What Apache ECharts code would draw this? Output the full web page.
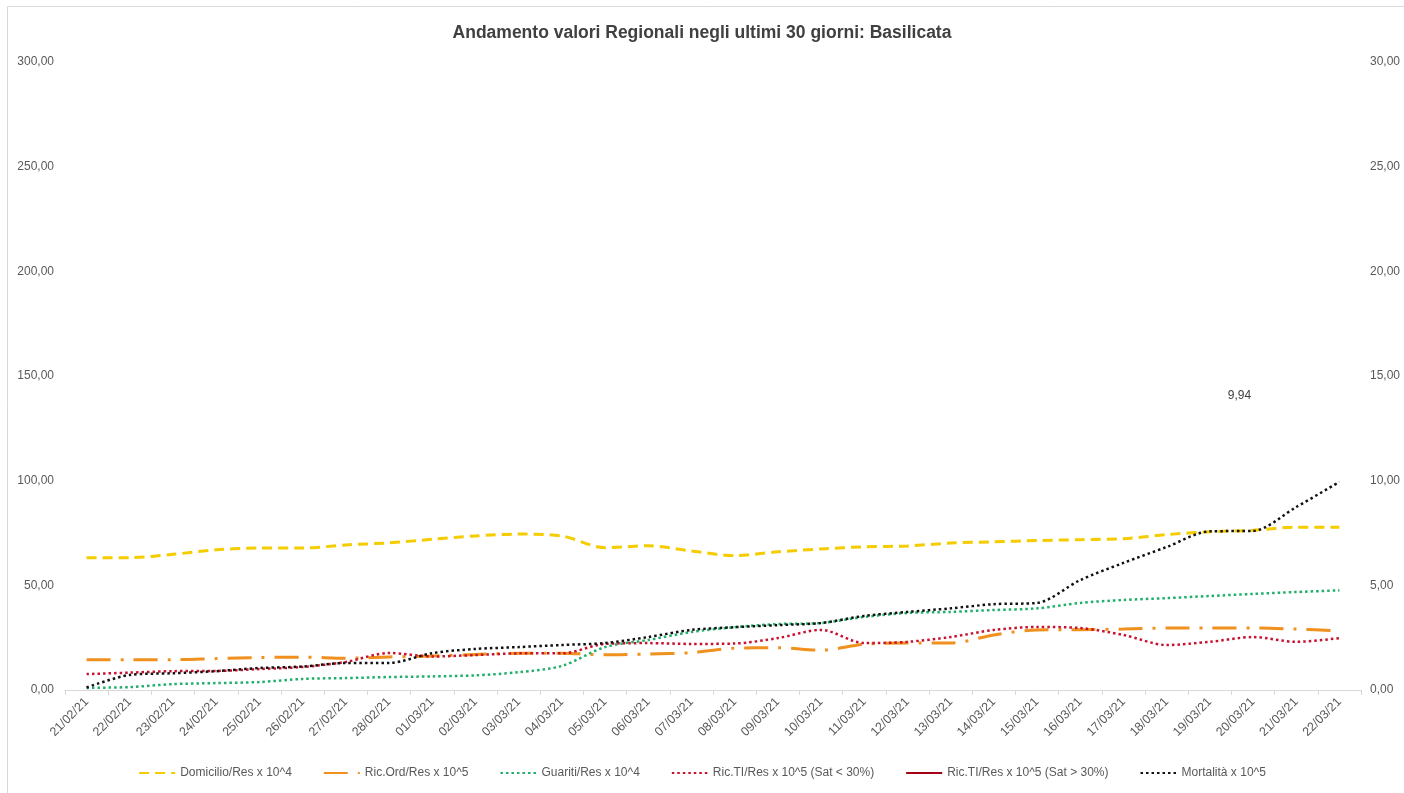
<!DOCTYPE html>
<html><head><meta charset="utf-8">
<script src="https://cdn.jsdelivr.net/npm/echarts@6/dist/echarts.min.js"></script>
<style>html,body{margin:0;padding:0;background:#fff}#c{width:1404px;height:793px}</style>
</head><body><div id="c"></div>
<script>
const dates = ['21/02/21','22/02/21','23/02/21','24/02/21','25/02/21','26/02/21','27/02/21','28/02/21',
  '01/03/21','02/03/21','03/03/21','04/03/21','05/03/21','06/03/21','07/03/21','08/03/21','09/03/21','10/03/21',
  '11/03/21','12/03/21','13/03/21','14/03/21','15/03/21','16/03/21','17/03/21','18/03/21','19/03/21','20/03/21',
  '21/03/21','22/03/21'];
const domicilio = [63.2,63.2,64.8,67.0,67.8,67.8,69.3,70.3,72.0,73.6,74.5,73.6,68.0,68.9,66.4,64.2,66.0,67.4,68.4,68.8,70.2,70.8,71.4,71.8,72.3,74.2,75.6,76.3,77.8,77.8];
const ricOrd = [14.5,14.5,14.5,15.0,15.5,15.7,15.2,15.8,16.2,17.0,17.5,17.6,16.8,17.2,17.8,20.0,20.2,19.0,21.8,22.4,22.4,26.3,28.7,28.8,29.1,29.6,29.6,29.6,29.1,28.3];
const guariti = [1.0,1.4,2.8,3.3,3.8,5.3,5.7,6.2,6.5,7.0,8.5,11.5,20.5,23.9,27.7,30.0,31.5,32.0,34.9,36.8,37.3,38.2,39.0,41.6,43.0,43.9,44.9,45.9,46.8,47.6];
const ricTIlow = [7.6,8.3,9.0,9.1,10.0,11.0,13.4,17.7,16.0,16.7,17.5,17.5,22.0,22.4,22.0,22.2,24.8,28.7,22.4,23.0,25.3,28.7,30.1,29.6,26.3,21.5,23.0,25.3,23.0,24.8];
const ricTIhigh = dates.map(() => null);
const mortalita = [0.12,0.72,0.80,0.90,1.05,1.12,1.29,1.29,1.76,1.96,2.05,2.15,2.24,2.53,2.87,3.00,3.10,3.20,3.54,3.73,3.90,4.10,4.16,5.25,6.07,6.83,7.58,7.60,8.74,9.94];
const leftTicks = {min:0, max:300, interval:50};
const rightTicks = {min:0, max:30, interval:5};
const names = ['Domicilio/Res x 10^4','Ric.Ord/Res x 10^5','Guariti/Res x 10^4','Ric.TI/Res x 10^5 (Sat < 30%)','Ric.TI/Res x 10^5 (Sat > 30%)','Mortalità x 10^5'];

const fmt = v => Number(v).toFixed(2).replace('.', ',');
const FONT = 'Liberation Sans, Arial, sans-serif';
const chart = echarts.init(document.getElementById('c'), null, {renderer:'canvas'});
const lastIdx = mortalita.length - 1;

chart.setOption({
  animation:false,
  backgroundColor:'#ffffff',
  textStyle:{fontFamily:FONT},
  graphic:[{type:'rect', shape:{x:7.5,y:6.5,width:1420,height:820}, style:{fill:'none', stroke:'#D9D9D9', lineWidth:1}, silent:true}],
  title:{text:'Andamento valori Regionali negli ultimi 30 giorni: Basilicata', left:'center', top:19,
    textStyle:{fontSize:17.5, fontWeight:'bold', color:'#404040', fontFamily:FONT}},
  legend:{bottom:9, left:'center', itemWidth:36, itemHeight:12, itemGap:31,
    itemStyle:{opacity:0},
    textStyle:{fontSize:12, color:'#595959', fontFamily:FONT}, data:names},
  grid:{left:65, right:43, top:62, bottom:103, containLabel:false},
  xAxis:{type:'category', data:dates, boundaryGap:true,
    axisLine:{lineStyle:{color:'#D9D9D9'}},
    axisTick:{show:true, length:5, lineStyle:{color:'#D9D9D9'}},
    axisLabel:{rotate:45, fontSize:12.5, color:'#595959', margin:10, interval:0}},
  yAxis:[
    {type:'value', min:leftTicks.min, max:leftTicks.max, interval:leftTicks.interval,
      axisLine:{show:false}, axisTick:{show:false}, splitLine:{show:false},
      axisLabel:{formatter:fmt, fontSize:12, color:'#595959', margin:11}},
    {type:'value', min:rightTicks.min, max:rightTicks.max, interval:rightTicks.interval,
      axisLine:{show:false}, axisTick:{show:false}, splitLine:{show:false},
      axisLabel:{formatter:fmt, fontSize:12, color:'#595959', margin:9}}
  ],
  series:[
    {name:names[0], type:'line', data:domicilio, yAxisIndex:0, symbol:'none', smooth:0.3,
      color:'#F5CC00', lineStyle:{width:3, type:[10,6], color:'#F5CC00'}},
    {name:names[1], type:'line', data:ricOrd, yAxisIndex:0, symbol:'none', smooth:0.3,
      color:'#F0901E', lineStyle:{width:3, type:[24,10,3,10], color:'#F0901E'}},
    {name:names[2], type:'line', data:guariti, yAxisIndex:0, symbol:'none', smooth:0.3,
      color:'#1FAF6A', lineStyle:{width:2.5, type:[2.5,3], color:'#1FAF6A'}},
    {name:names[3], type:'line', data:ricTIlow, yAxisIndex:0, symbol:'none', smooth:0.3,
      color:'#C8102E', lineStyle:{width:2.5, type:[2.5,3], color:'#C8102E'}},
    {name:names[4], type:'line', data:ricTIhigh, yAxisIndex:0, symbol:'none',
      color:'#A50015', lineStyle:{width:3.5, color:'#A50015'}},
    {name:names[5], type:'line', data:mortalita, yAxisIndex:1, symbol:'none', smooth:0.3,
      color:'#111111', lineStyle:{width:2.5, type:[2.5,3], color:'#111111'},
      markPoint:{symbol:'circle', symbolSize:0, silent:true,
        data:[{coord:[dates[lastIdx], mortalita[lastIdx]], value:mortalita[lastIdx]}],
        label:{show:true, position:'inside', offset:[-100,-86], formatter:p => fmt(p.value), fontSize:12, color:'#404040'}}}
  ]
});
</script>
</body></html>
